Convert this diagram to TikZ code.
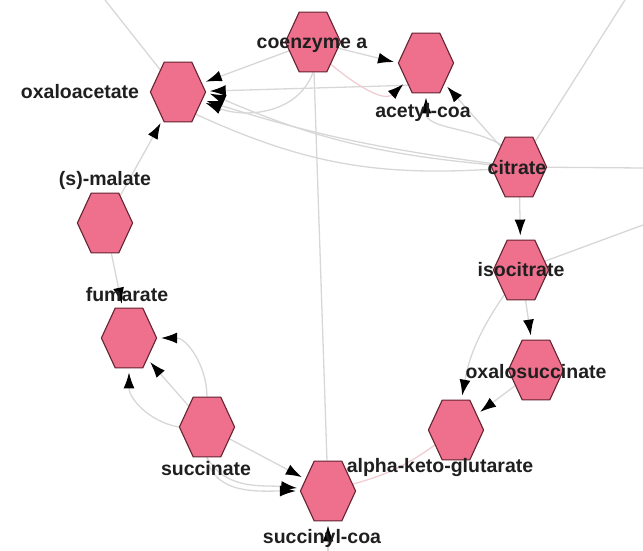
\documentclass[tikz,border=0pt]{standalone}
\usepackage{fontspec}
\setmainfont{Liberation Sans}
\usetikzlibrary{shapes.geometric,arrows.meta,backgrounds}

\definecolor{hexfill}{RGB}{238,112,140}
\definecolor{hexline}{RGB}{100,35,48}
\definecolor{linkgray}{RGB}{215,215,215}
\definecolor{linkpink}{RGB}{240,205,210}

\begin{document}
\begin{tikzpicture}[x=1pt, y=-1pt,
	hexa/.style={regular polygon, regular polygon sides=6,
		minimum size=69pt, inner sep=0pt, xscale=0.8,
		fill=hexfill, draw=hexline, line width=1.1pt},
	lbl/.style={font=\bfseries\fontsize{19.5}{21}\selectfont,
		inner sep=0pt, text=black!88},
	link/.style={draw=linkgray, line width=1.3pt},
	tip/.style={link, -{Latex[length=16pt,width=11pt,color=black]},
		shorten >=4pt}]
	\useasboundingbox (0,0) rectangle (643,551);

	% metabolites
	\node[hexa] (coa) at (313,42) {};
	\node[hexa] (acoa) at (426,63) {};
	\node[hexa] (oaa) at (178,92) {};
	\node[hexa] (mal) at (105,223) {};
	\node[hexa] (fum) at (129,338) {};
	\node[hexa] (suc) at (207,427) {};
	\node[hexa] (sucoa) at (328,491) {};
	\node[hexa] (akg) at (456,430) {};
	\node[hexa] (osuc) at (536,370) {};
	\node[hexa] (icit) at (521,270) {};
	\node[hexa] (cit) at (519,167) {};

	% loose ends
	\coordinate (endA) at (105,0);
	\coordinate (endB) at (625,0);
	\coordinate (endC) at (643,168);
	\coordinate (endD) at (643,225);
	\coordinate (endE) at (328,551);

	\begin{pgfonlayer}{background}
		\draw[link] (endA) -- (oaa.north west);
		\draw[link] (cit) -- (endB);
		\draw[link] (cit) -- (endC);
		\draw[link] (icit) -- (endD);
		\draw[link] (coa) -- (sucoa);
		\draw[link, draw=linkpink] (sucoa) to[bend right=10] (akg);
		\draw[link] (cit) to[bend left=14] (oaa.south east);

		\draw[tip] (coa) -- (oaa);
		\draw[tip] (acoa.south west) -- (oaa);
		\draw[tip] (cit) to[bend left=5] (oaa);
		\draw[tip] (cit) to[bend left=9] (oaa.east);
		\draw[tip] (coa.south) to[out=-110,in=-20] (oaa);
		\draw[tip] (mal) -- (oaa);
		\draw[tip] (mal) -- (fum);

		\draw[tip] (coa) -- (acoa.west);
		\draw[tip, draw=linkpink] (coa.south east) to[out=-40,in=-140] (acoa);
		\draw[tip] (cit.north west) to[out=150,in=-90] (acoa.south);
		\draw[tip] (cit) -- (acoa);

		\draw[tip] (cit) -- (icit);
		\draw[tip] (icit) -- (osuc);
		\draw[tip] (icit) to[bend right=12] (akg);
		\draw[tip] (osuc) -- (akg);

		\draw[tip] (suc.north) to[out=90,in=0] (fum.east);
		\draw[tip] (suc) -- (fum);
		\draw[tip] (suc.west) to[out=170,in=-90] (fum.south);

		\draw[tip] (suc) -- (sucoa);
		\draw[tip] (suc.south) to[out=-60,in=175] (sucoa);
		\draw[tip] (suc.south) to[out=-80,in=180] (sucoa.west);
		\draw[tip] (endE) -- (sucoa);
	\end{pgfonlayer}

	% names
	\node[lbl] (coaname) at (312,45) {coenzyme a};
	\node[lbl] (acoaname) at (423,112) {acetyl-coa};
	\node[lbl] (oaaname) at (80,92) {oxaloacetate};
	\node[lbl] (malname) at (105,180) {(s)-malate};
	\node[lbl] (fumname) at (127,295) {fumarate};
	\node[lbl] (sucname) at (206,469) {succinate};
	\node[lbl] (sucoaname) at (322,538) {succinyl-coa};
	\node[lbl] (akgname) at (440,467) {alpha-keto-glutarate};
	\node[lbl] (osucname) at (536,372) {oxalosuccinate};
	\node[lbl] (icitname) at (521,270) {isocitrate};
	\node[lbl] (citname) at (517,168) {citrate};
\end{tikzpicture}
\end{document}
